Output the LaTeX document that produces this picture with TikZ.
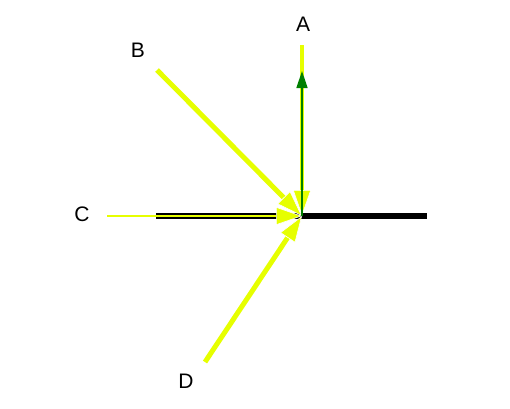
\documentclass[tikz,border=0pt]{standalone}
\usepackage{fontspec}
\setmainfont{Liberation Sans}
\usetikzlibrary{arrows.meta}
\definecolor{ylw}{RGB}{230,255,0}
\definecolor{grn}{RGB}{0,128,0}
\tikzset{
  lbl/.style={font=\fontsize{21}{24}\selectfont, inner sep=0pt},
  ray/.style={draw=ylw, line width=5pt, -{Triangle[length=26pt,width=18pt,fill=ylw,color=white,line width=0.6pt]}},
}
\begin{document}
\begin{tikzpicture}[x=1pt,y=-1pt]
\useasboundingbox (0,0) rectangle (510,408);
\coordinate (O) at (302,216);
\coordinate (Ae) at (302,45);
\coordinate (Ag) at (302,71);
\coordinate (Be) at (157,70);
\coordinate (Ce) at (107,216);
\coordinate (Cb) at (156,216);
\coordinate (De) at (205,362);
\coordinate (R) at (427,216);
\node[lbl] (A) at (303,24) {A};
\node[lbl] (B) at (138,50) {B};
\node[lbl] (C) at (82,214) {C};
\node[lbl] (D) at (186,381) {D};
% black line
\draw[line width=6pt] (Cb) -- (R);
\draw[ylw, line width=2pt] (Ce) -- (Cb);
\draw[ray, line width=2pt] (Cb) -- (O);
% rays
\draw[ray] (Be) -- (O);
\draw[ray] (De) -- (O);
\draw[ray, line width=4.5pt] (Ae) -- (O);
\draw[grn, line width=1.5pt, -{Triangle[length=17pt,width=11pt]}] (O) -- (Ag);
\end{tikzpicture}
\end{document}
